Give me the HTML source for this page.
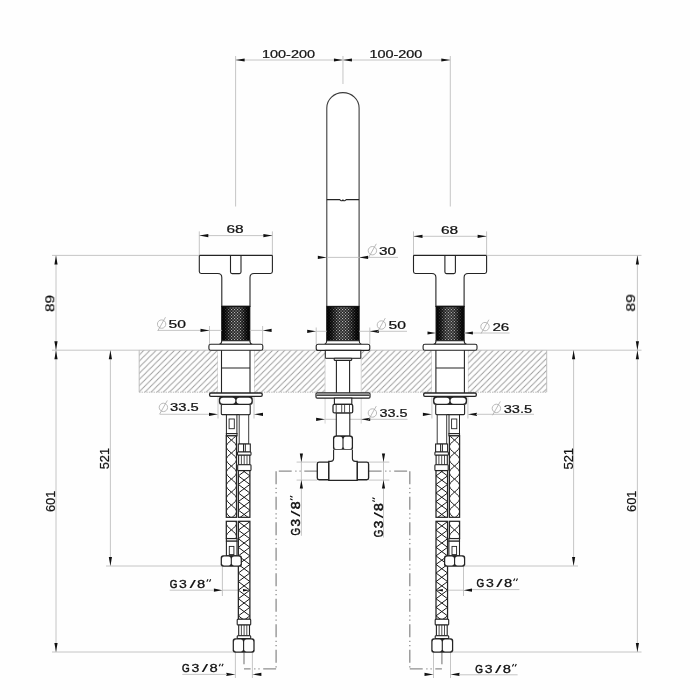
<!DOCTYPE html>
<html><head><meta charset="utf-8"><title>drawing</title>
<style>html,body{margin:0;padding:0;background:#fefefe}svg{display:block}text{font-family:"Liberation Sans",sans-serif;fill:#111;stroke:#111;stroke-width:0.24px;stroke-linejoin:round}</style>
</head><body>
<svg width="700" height="700" viewBox="0 0 700 700">
<defs>
<pattern id="hatch" width="6.13" height="6.13" patternUnits="userSpaceOnUse" x="144" y="350.2"><path d="M-1,7.13 L7.13,-1 M-1,1 L1,-1 M5.13,7.13 L7.13,5.13" stroke="#9a9a9a" stroke-width="0.9" fill="none"/></pattern>
<linearGradient id="kn" x1="0" x2="1" y1="0" y2="0"><stop offset="0" stop-color="#050505"/><stop offset="0.18" stop-color="#1a1a1a"/><stop offset="0.5" stop-color="#2c2c2c"/><stop offset="0.82" stop-color="#1a1a1a"/><stop offset="1" stop-color="#050505"/></linearGradient>
<pattern id="kd" width="3" height="3" patternUnits="userSpaceOnUse"><rect x="0" y="0" width="1.1" height="1.1" fill="#b4b4b4"/><rect x="1.5" y="1.5" width="1.1" height="1.1" fill="#b4b4b4"/></pattern>
<linearGradient id="ks" x1="0" x2="1" y1="0" y2="0"><stop offset="0" stop-color="#000" stop-opacity="0.95"/><stop offset="0.12" stop-color="#000" stop-opacity="0.7"/><stop offset="0.35" stop-color="#000" stop-opacity="0"/><stop offset="0.65" stop-color="#000" stop-opacity="0"/><stop offset="0.88" stop-color="#000" stop-opacity="0.7"/><stop offset="1" stop-color="#000" stop-opacity="0.95"/></linearGradient>
<g id="half"><line x1="235.6" y1="56" x2="235.6" y2="206.5" stroke="#c0c0c0" stroke-width="0.9" />
<line x1="235.6" y1="60" x2="342.95" y2="60" stroke="#c0c0c0" stroke-width="0.9" />
<polygon points="235.6,60 244.6,58.4 244.6,61.6" fill="#111"/>
<polygon points="342.95,60 333.95,58.4 333.95,61.6" fill="#111"/>
<line x1="199.3" y1="231.4" x2="199.3" y2="255.4" stroke="#c0c0c0" stroke-width="0.9" />
<line x1="272.4" y1="231.4" x2="272.4" y2="255.4" stroke="#c0c0c0" stroke-width="0.9" />
<line x1="218" y1="350.2" x2="218" y2="418.5" stroke="#c0c0c0" stroke-width="0.9" />
<line x1="254" y1="350.2" x2="254" y2="418.5" stroke="#c0c0c0" stroke-width="0.9" />
<polygon points="218,414.3 209.0,412.7 209.0,415.9" fill="#111"/>
<polygon points="254,414.3 263.0,412.7 263.0,415.9" fill="#111"/>
<line x1="222.4" y1="566" x2="222.4" y2="596" stroke="#c0c0c0" stroke-width="0.9" />
<line x1="222.4" y1="590.2" x2="238" y2="590.2" stroke="#c0c0c0" stroke-width="0.9" />
<polygon points="222.4,590.2 213.9,588.6 213.9,591.8" fill="#111"/>
<line x1="235.4" y1="652" x2="235.4" y2="678" stroke="#c0c0c0" stroke-width="0.9" />
<line x1="252.4" y1="652" x2="252.4" y2="678" stroke="#c0c0c0" stroke-width="0.9" />
<polygon points="235.4,674.4 226.4,672.8 226.4,676.0" fill="#111"/>
<polygon points="252.4,674.4 261.4,672.8 261.4,676.0" fill="#111"/>
<path d="M317.2,471.2 H276" stroke="#8e8e8e" stroke-width="1.3" fill="none" stroke-dasharray="12.9 3.6 1.2 3 1.2 3.6"/>
<path d="M276.1,471.3 V668.9" stroke="#8e8e8e" stroke-width="1.3" fill="none" stroke-dasharray="12.9 3.6 1.2 3 1.2 3.6"/>
<path d="M276.1,668.9 H244" stroke="#8e8e8e" stroke-width="1.3" fill="none" stroke-dasharray="12.9 3.6 1.2 3 1.2 3.6"/>
<path d="M244,652.5 V664.2" stroke="#8e8e8e" stroke-width="1.3" fill="none"/>
<line x1="296.6" y1="462.1" x2="317.3" y2="462.1" stroke="#c0c0c0" stroke-width="0.9" />
<line x1="296.6" y1="480.1" x2="317.3" y2="480.1" stroke="#c0c0c0" stroke-width="0.9" />
<rect x="218" y="350.6" width="36" height="42.2" fill="#fff"/>
<path d="M199.3,256.2 Q199.3,255.4 200.1,255.4 H271.6 Q272.4,255.4 272.4,256.2 V271.6 Q272.4,273.5 270.5,273.5 H254 Q250,273.5 250,277.5 V306.4 H221.8 V277.5 Q221.8,273.5 217.8,273.5 H201.2 Q199.3,273.5 199.3,271.6 Z" fill="#fff" stroke="#242424" stroke-width="1.1"/>
<path d="M230.5,255.4 V272 Q230.5,273.6 232.1,273.6 H239.4 Q241,273.6 241,272 V255.4" fill="none" stroke="#242424" stroke-width="1.1"/>
<rect x="221.8" y="306.4" width="28" height="34.3" fill="url(#kn)"/><rect x="221.8" y="306.4" width="28" height="34.3" fill="url(#kd)"/><rect x="221.8" y="306.4" width="28" height="34.3" fill="url(#ks)"/><rect x="221.8" y="306.4" width="28" height="34.3" fill="none" stroke="#111" stroke-width="1.1"/>
<path d="M221.8,340.7 Q221.6,343.6 219.4,344.2 H252.2 Q250,343.6 249.8,340.7 Z" fill="#fff" stroke="#242424" stroke-width="1.1"/>
<rect x="208.9" y="344.2" width="53.9" height="6.1" rx="1.8" fill="#fff" stroke="#242424" stroke-width="1.1"/>
<path d="M221.5,350.3 V393 M250,350.3 V393 M221.5,368 H250" fill="none" stroke="#242424" stroke-width="1.1"/>
<rect x="209.6" y="393" width="52.6" height="3.3" rx="1.2" fill="#fff" stroke="#242424" stroke-width="1.3"/>
<rect x="218.85" y="396.35" width="34.0" height="8.7" rx="3.1999999999999997" fill="#242424"/><rect x="220.15" y="397.65" width="15.17" height="6.1" rx="2.9" fill="#fff"/><rect x="236.49" y="397.65" width="15.06" height="6.1" rx="2.9" fill="#fff"/>
<rect x="221.3" y="404.5" width="28.9" height="10.1" rx="1" fill="#fff" stroke="#242424" stroke-width="1.1"/>
<rect x="226.4" y="414.8" width="10.5" height="18.8" rx="0" fill="#fff" stroke="#242424" stroke-width="1.0"/>
<rect x="229.1" y="419" width="5.2" height="9.7" rx="0" fill="#fff" stroke="#242424" stroke-width="0.9"/>
<rect x="226.4" y="433.6" width="10.6" height="2.2" rx="0" fill="#fff" stroke="#242424" stroke-width="1.1"/>
<rect x="226.3" y="435.8" width="10.2" height="81.5" fill="#fff"/><clipPath id="b1"><rect x="226.3" y="435.8" width="10.2" height="81.5"/></clipPath><g clip-path="url(#b1)"><path d="M231.4,427.1 C238.2,432.56 238.2,434.64 231.4,440.1 C224.6,445.56 224.6,447.64 231.4,453.1 C238.2,458.56 238.2,460.64 231.4,466.1 C224.6,471.56 224.6,473.64 231.4,479.1 C238.2,484.56 238.2,486.64 231.4,492.1 C224.6,497.56 224.6,499.64 231.4,505.1 C238.2,510.56 238.2,512.64 231.4,518.1 C224.6,523.56 224.6,525.64 231.4,531.1 M231.4,427.1 C224.6,432.56 224.6,434.64 231.4,440.1 C238.2,445.56 238.2,447.64 231.4,453.1 C224.6,458.56 224.6,460.64 231.4,466.1 C238.2,471.56 238.2,473.64 231.4,479.1 C224.6,484.56 224.6,486.64 231.4,492.1 C238.2,497.56 238.2,499.64 231.4,505.1 C224.6,510.56 224.6,512.64 231.4,518.1 C238.2,523.56 238.2,525.64 231.4,531.1" fill="none" stroke="#1a1a1a" stroke-width="1.0"/></g><rect x="226.3" y="435.8" width="10.2" height="81.5" fill="none" stroke="#242424" stroke-width="1.25"/>
<rect x="226.3" y="521.3" width="10.2" height="17.3" fill="#fff"/><clipPath id="b2"><rect x="226.3" y="521.3" width="10.2" height="17.3"/></clipPath><g clip-path="url(#b2)"><path d="M231.4,490.9 C238.2,496.36 238.2,498.44 231.4,503.9 C224.6,509.36 224.6,511.44 231.4,516.9 C238.2,522.36 238.2,524.44 231.4,529.9 C224.6,535.36 224.6,537.44 231.4,542.9 C238.2,548.36 238.2,550.44 231.4,555.9 M231.4,490.9 C224.6,496.36 224.6,498.44 231.4,503.9 C238.2,509.36 238.2,511.44 231.4,516.9 C224.6,522.36 224.6,524.44 231.4,529.9 C238.2,535.36 238.2,537.44 231.4,542.9 C224.6,548.36 224.6,550.44 231.4,555.9" fill="none" stroke="#1a1a1a" stroke-width="1.0"/></g><rect x="226.3" y="521.3" width="10.2" height="17.3" fill="none" stroke="#242424" stroke-width="1.25"/>
<rect x="226.4" y="538.6" width="10.6" height="2.6" rx="0" fill="#fff" stroke="#242424" stroke-width="1.1"/>
<rect x="226.4" y="541.2" width="10.6" height="14.6" rx="0" fill="#fff" stroke="#242424" stroke-width="1.1"/>
<rect x="229.3" y="546.4" width="4.6" height="8.2" rx="0" fill="#fff" stroke="#242424" stroke-width="0.9"/>
<rect x="239.2" y="414.8" width="9.5" height="29.2" rx="0" fill="#fff" stroke="#333" stroke-width="0.95"/>
<rect x="238.3" y="444" width="12.0" height="8" rx="0" fill="#fff" stroke="#242424" stroke-width="1.1"/><line x1="243.5" y1="444" x2="243.5" y2="452" stroke="#242424" stroke-width="1.0" /><line x1="245.3" y1="444" x2="245.3" y2="452" stroke="#242424" stroke-width="1.0" />
<rect x="237.5" y="452" width="13.5" height="3.2" rx="0.8" fill="#fff" stroke="#242424" stroke-width="1.1"/>
<rect x="238.6" y="455.2" width="11.2" height="9.6" rx="0" fill="#fff" stroke="#242424" stroke-width="1.1"/><line x1="241.4" y1="455.2" x2="241.4" y2="464.8" stroke="#242424" stroke-width="0.8" /><line x1="244.2" y1="455.2" x2="244.2" y2="464.8" stroke="#242424" stroke-width="0.8" /><line x1="247.0" y1="455.2" x2="247.0" y2="464.8" stroke="#242424" stroke-width="0.8" />
<rect x="237.7" y="464.8" width="13.3" height="5.8" rx="0.8" fill="#fff" stroke="#242424" stroke-width="1.1"/>
<rect x="238.35" y="470.6" width="11.55" height="46.7" fill="#fff"/><clipPath id="b3"><rect x="238.35" y="470.6" width="11.55" height="46.7"/></clipPath><g clip-path="url(#b3)"><path d="M238.35,467.3 L249.9,475.87 L238.35,484.44 L249.9,493.01 L238.35,501.58 L249.9,510.15 L238.35,518.72 M249.9,467.3 L238.35,475.87 L249.9,484.44 L238.35,493.01 L249.9,501.58 L238.35,510.15 L249.9,518.72" fill="none" stroke="#1a1a1a" stroke-width="1.0"/></g><rect x="238.35" y="470.6" width="11.55" height="46.7" fill="none" stroke="#242424" stroke-width="1.25"/>
<rect x="238.35" y="521.3" width="11.55" height="98.0" fill="#fff"/><clipPath id="b4"><rect x="238.35" y="521.3" width="11.55" height="98.0"/></clipPath><g clip-path="url(#b4)"><path d="M238.35,504.46 L249.9,513.03 L238.35,521.6 L249.9,530.17 L238.35,538.74 L249.9,547.31 L238.35,555.88 L249.9,564.45 L238.35,573.02 L249.9,581.59 L238.35,590.16 L249.9,598.73 L238.35,607.3 L249.9,615.87 L238.35,624.44 M249.9,504.46 L238.35,513.03 L249.9,521.6 L238.35,530.17 L249.9,538.74 L238.35,547.31 L249.9,555.88 L238.35,564.45 L249.9,573.02 L238.35,581.59 L249.9,590.16 L238.35,598.73 L249.9,607.3 L238.35,615.87 L249.9,624.44" fill="none" stroke="#1a1a1a" stroke-width="1.0"/></g><rect x="238.35" y="521.3" width="11.55" height="98.0" fill="none" stroke="#242424" stroke-width="1.25"/>
<polygon points="249.5,590.2 243,589 243,591.4" fill="#111"/>
<rect x="220.68" y="555.27" width="21.25" height="11.55" rx="2.5" fill="#242424"/><rect x="221.93" y="556.52" width="8.81" height="9.05" rx="2.2" fill="#fff"/><rect x="231.86" y="556.52" width="8.81" height="9.05" rx="2.2" fill="#fff"/>
<rect x="237.2" y="619.3" width="13.5" height="5.7" rx="0.8" fill="#fff" stroke="#242424" stroke-width="1.1"/>
<rect x="238.7" y="625" width="10.8" height="10.7" rx="0" fill="#fff" stroke="#242424" stroke-width="1.1"/><line x1="241.4" y1="625" x2="241.4" y2="635.7" stroke="#242424" stroke-width="0.8" /><line x1="244.1" y1="625" x2="244.1" y2="635.7" stroke="#242424" stroke-width="0.8" /><line x1="246.8" y1="625" x2="246.8" y2="635.7" stroke="#242424" stroke-width="0.8" />
<rect x="237.2" y="635.7" width="13.5" height="2.9" rx="0.8" fill="#fff" stroke="#242424" stroke-width="1.1"/>
<rect x="232.68" y="638.27" width="21.95" height="14.45" rx="2.5" fill="#242424"/><rect x="233.93" y="639.52" width="9.11" height="11.95" rx="2.2" fill="#fff"/><rect x="244.16" y="639.52" width="9.21" height="11.95" rx="2.2" fill="#fff"/></g>
</defs>
<rect width="700" height="700" fill="#fefefe"/>
<rect x="139.2" y="350.2" width="407.5" height="42" fill="url(#hatch)"/>
<path d="M139.2,350.2 V392.2 M546.7,350.2 V392.2" fill="none" stroke="#b8b8b8" stroke-width="0.9"/>
<path d="M139.2,392.2 H546.7" fill="none" stroke="#b0b0b0" stroke-width="0.9" stroke-dasharray="1.3 1.1"/>
<path d="M139.2,350.2 H546.7" fill="none" stroke="#b8b8b8" stroke-width="0.9"/>
<rect x="325" y="350.6" width="36.4" height="42.2" fill="#fff"/>
<use href="#half"/>
<use href="#half" transform="translate(685.9 0) scale(-1 1)"/>
<line x1="342.95" y1="56" x2="342.95" y2="84" stroke="#c0c0c0" stroke-width="0.9" />
<path d="M326.8,306.4 V107.9 A16.15,15.3 0 0 1 359.1,107.9 V306.4" fill="#fff" stroke="#3c3c3c" stroke-width="1.1"/>
<path d="M326.8,199.6 H339.5 l1.6,1.2 h1.2 l0.65,-0.9 l0.65,0.9 h1.2 l1.6,-1.2 H359.1" fill="none" stroke="#242424" stroke-width="1.1"/>
<line x1="326.8" y1="257.4" x2="359.1" y2="257.4" stroke="#c0c0c0" stroke-width="0.9" />
<line x1="359.1" y1="257.4" x2="398" y2="257.4" stroke="#c0c0c0" stroke-width="0.9" />
<polygon points="326.8,257.4 317.8,255.8 317.8,259.0" fill="#111"/>
<polygon points="359.1,257.4 368.1,255.8 368.1,259.0" fill="#111"/>
<rect x="326.8" y="306.4" width="32.3" height="34.3" fill="url(#kn)"/><rect x="326.8" y="306.4" width="32.3" height="34.3" fill="url(#kd)"/><rect x="326.8" y="306.4" width="32.3" height="34.3" fill="url(#ks)"/><rect x="326.8" y="306.4" width="32.3" height="34.3" fill="none" stroke="#111" stroke-width="1.1"/>
<path d="M326.8,340.7 Q326.6,343.6 324.6,344.2 H361.3 Q359.3,343.6 359.1,340.7 Z" fill="#fff" stroke="#242424" stroke-width="1.1"/>
<line x1="316.2" y1="327.5" x2="316.2" y2="344.2" stroke="#c0c0c0" stroke-width="0.9" />
<line x1="369.8" y1="327.5" x2="369.8" y2="344.2" stroke="#c0c0c0" stroke-width="0.9" />
<line x1="316.2" y1="331.3" x2="326.8" y2="331.3" stroke="#c0c0c0" stroke-width="0.9" />
<line x1="359.1" y1="331.3" x2="407" y2="331.3" stroke="#c0c0c0" stroke-width="0.9" />
<polygon points="316.2,331.3 307.2,329.7 307.2,332.9" fill="#111"/>
<polygon points="369.8,331.3 378.8,329.7 378.8,332.9" fill="#111"/>
<rect x="316.2" y="344.2" width="53.6" height="6.2" rx="2" fill="#fff" stroke="#242424" stroke-width="1.1"/>
<rect x="325.3" y="350.4" width="35.5" height="7.9" rx="0" fill="#fff" stroke="#242424" stroke-width="1.1"/>
<rect x="334.2" y="358.3" width="17.5" height="2.1" rx="0.6" fill="#fff" stroke="#242424" stroke-width="1.1"/>
<path d="M336.4,360.4 V393 M349.6,360.4 V393" stroke="#242424" stroke-width="1.1" fill="none"/>
<line x1="325.1" y1="358.4" x2="325.1" y2="423.6" stroke="#cfcfcf" stroke-width="0.9" />
<line x1="361.2" y1="358.4" x2="361.2" y2="423.6" stroke="#cfcfcf" stroke-width="0.9" />
<rect x="316" y="392.8" width="54" height="5.3" rx="1.2" fill="#fff" stroke="#242424" stroke-width="1.2"/>
<rect x="316.8" y="393.4" width="52.4" height="1.9" fill="#8a8a8a"/>
<line x1="316.6" y1="395.5" x2="369.4" y2="395.5" stroke="#242424" stroke-width="0.8" />
<line x1="325.1" y1="419.3" x2="361.2" y2="419.3" stroke="#c0c0c0" stroke-width="0.9" />
<line x1="361.2" y1="419.3" x2="407.5" y2="419.3" stroke="#c0c0c0" stroke-width="0.9" />
<polygon points="325.1,419.3 316.1,417.7 316.1,420.9" fill="#111"/>
<polygon points="361.2,419.3 370.2,417.7 370.2,420.9" fill="#111"/>
<rect x="334.4" y="398.1" width="17.4" height="6.2" rx="0" fill="#fff" stroke="#242424" stroke-width="1.1"/>
<rect x="336.3" y="412.9" width="13.5" height="23.2" rx="0" fill="#fff" stroke="#242424" stroke-width="1.1"/>
<rect x="333" y="404.3" width="19.7" height="8.6" rx="1.5" fill="#fff" stroke="#242424" stroke-width="1.25"/>
<line x1="336.2" y1="404.6" x2="336.2" y2="412.6" stroke="#242424" stroke-width="0.8" />
<line x1="341.7" y1="404.6" x2="341.7" y2="412.6" stroke="#242424" stroke-width="0.8" />
<line x1="344.6" y1="404.6" x2="344.6" y2="412.6" stroke="#242424" stroke-width="0.8" />
<line x1="349.5" y1="404.6" x2="349.5" y2="412.6" stroke="#242424" stroke-width="0.8" />
<rect x="332.98" y="435.48" width="20.05" height="14.85" rx="2.5" fill="#242424"/><rect x="334.23" y="436.73" width="8.21" height="12.35" rx="2.2" fill="#fff"/><rect x="343.56" y="436.73" width="8.21" height="12.35" rx="2.2" fill="#fff"/>
<path d="M333.6,449.7 V458.5 Q333.6,461.4 330.7,461.4 H328.7 V480.4 H357.3 V461.4 H355.3 Q352.4,461.4 352.4,458.5 V449.7" fill="#fff" stroke="#242424" stroke-width="1.1"/>
<path d="M328.7,462.1 H319.1 Q317.3,462.1 317.3,463.9 V477.9 Q317.3,479.7 319.1,479.7 H328.7 Z" fill="#fff" stroke="#242424" stroke-width="1.35"/>
<path d="M357.3,462.1 H366.8 Q368.6,462.1 368.6,463.9 V477.9 Q368.6,479.7 366.8,479.7 H357.3 Z" fill="#fff" stroke="#242424" stroke-width="1.35"/>
<line x1="209.5" y1="326" x2="209.5" y2="344.2" stroke="#c0c0c0" stroke-width="0.9" />
<line x1="262.6" y1="326" x2="262.6" y2="344.2" stroke="#c0c0c0" stroke-width="0.9" />
<line x1="158" y1="330.4" x2="221.8" y2="330.4" stroke="#c0c0c0" stroke-width="0.9" />
<line x1="249.8" y1="330.4" x2="262.6" y2="330.4" stroke="#c0c0c0" stroke-width="0.9" />
<polygon points="209.5,330.4 200.5,328.8 200.5,332.0" fill="#111"/>
<polygon points="262.6,330.4 271.6,328.8 271.6,332.0" fill="#111"/>
<line x1="301.4" y1="453.7" x2="301.4" y2="535.8" stroke="#c0c0c0" stroke-width="0.9" />
<polygon points="301.4,462.1 299.8,453.6 303.0,453.6" fill="#111"/>
<polygon points="301.4,480.1 299.8,488.6 303.0,488.6" fill="#111"/>
<line x1="383.5" y1="453.7" x2="383.5" y2="537.5" stroke="#c0c0c0" stroke-width="0.9" />
<polygon points="383.5,462.1 381.9,453.6 385.1,453.6" fill="#111"/>
<polygon points="383.5,480.1 381.9,488.6 385.1,488.6" fill="#111"/>
<line x1="199.3" y1="235.6" x2="272.4" y2="235.6" stroke="#c0c0c0" stroke-width="0.9" />
<polygon points="199.3,235.6 208.3,234.0 208.3,237.2" fill="#111"/>
<polygon points="272.4,235.6 263.4,234.0 263.4,237.2" fill="#111"/>
<line x1="413.5" y1="236.3" x2="486.6" y2="236.3" stroke="#c0c0c0" stroke-width="0.9" />
<polygon points="413.5,236.3 422.5,234.7 422.5,237.9" fill="#111"/>
<polygon points="486.6,236.3 477.6,234.7 477.6,237.9" fill="#111"/>
<line x1="52" y1="255.4" x2="199.3" y2="255.4" stroke="#c0c0c0" stroke-width="0.9" />
<line x1="52" y1="350.2" x2="139.2" y2="350.2" stroke="#c0c0c0" stroke-width="0.9" />
<line x1="52" y1="652" x2="233.3" y2="652" stroke="#c0c0c0" stroke-width="0.9" />
<line x1="56" y1="255.4" x2="56" y2="652" stroke="#c0c0c0" stroke-width="0.9" />
<polygon points="56,255.4 54.4,264.4 57.6,264.4" fill="#111"/>
<polygon points="56,350.2 54.4,341.2 57.6,341.2" fill="#111"/>
<polygon points="56,350.2 54.4,359.2 57.6,359.2" fill="#111"/>
<polygon points="56,652 54.4,643.0 57.6,643.0" fill="#111"/>
<line x1="110.4" y1="350.2" x2="110.4" y2="566" stroke="#c0c0c0" stroke-width="0.9" />
<polygon points="110.4,350.2 108.8,359.2 112.0,359.2" fill="#111"/>
<polygon points="110.4,566 108.8,557.0 112.0,557.0" fill="#111"/>
<line x1="106" y1="566" x2="221.3" y2="566" stroke="#c0c0c0" stroke-width="0.9" />
<line x1="486.6" y1="255.4" x2="641.5" y2="255.4" stroke="#c0c0c0" stroke-width="0.9" />
<line x1="546.7" y1="350.2" x2="641.5" y2="350.2" stroke="#c0c0c0" stroke-width="0.9" />
<line x1="452.6" y1="652" x2="641.5" y2="652" stroke="#c0c0c0" stroke-width="0.9" />
<line x1="637.4" y1="255.4" x2="637.4" y2="652" stroke="#c0c0c0" stroke-width="0.9" />
<polygon points="637.4,255.4 635.8,264.4 639.0,264.4" fill="#111"/>
<polygon points="637.4,350.2 635.8,341.2 639.0,341.2" fill="#111"/>
<polygon points="637.4,350.2 635.8,359.2 639.0,359.2" fill="#111"/>
<polygon points="637.4,652 635.8,643.0 639.0,643.0" fill="#111"/>
<line x1="573.6" y1="350.2" x2="573.6" y2="566" stroke="#c0c0c0" stroke-width="0.9" />
<polygon points="573.6,350.2 572.0,359.2 575.2,359.2" fill="#111"/>
<polygon points="573.6,566 572.0,557.0 575.2,557.0" fill="#111"/>
<line x1="464.6" y1="566" x2="578" y2="566" stroke="#c0c0c0" stroke-width="0.9" />
<line x1="464.4" y1="333" x2="509.6" y2="333" stroke="#c0c0c0" stroke-width="0.9" />
<polygon points="436,333 427.5,331.4 427.5,334.6" fill="#111"/>
<polygon points="464.4,333 472.9,331.4 472.9,334.6" fill="#111"/>
<line x1="160" y1="414.3" x2="209" y2="414.3" stroke="#c0c0c0" stroke-width="0.9" />
<line x1="476" y1="414.3" x2="534" y2="414.3" stroke="#c0c0c0" stroke-width="0.9" />
<line x1="169.7" y1="590.2" x2="214" y2="590.2" stroke="#c0c0c0" stroke-width="0.9" />
<line x1="472" y1="589.6" x2="519.4" y2="589.6" stroke="#c0c0c0" stroke-width="0.9" />
<line x1="182.3" y1="674.4" x2="227" y2="674.4" stroke="#c0c0c0" stroke-width="0.9" />
<line x1="459" y1="674.8" x2="517.6" y2="674.8" stroke="#c0c0c0" stroke-width="0.9" />
<g opacity="0.995"><text x="262" y="57.6" textLength="53" lengthAdjust="spacingAndGlyphs" font-size="11.4" >100-200</text>
<text x="369.4" y="57.6" textLength="53.0" lengthAdjust="spacingAndGlyphs" font-size="11.4" >100-200</text>
<text x="226.4" y="233.3" textLength="17.2" lengthAdjust="spacingAndGlyphs" font-size="11.4" >68</text>
<text x="441" y="234.2" textLength="17.2" lengthAdjust="spacingAndGlyphs" font-size="11.4" >68</text>
<circle cx="372.4" cy="250.7" r="4.2" fill="none" stroke="#a8a8a8" stroke-width="0.8"/><line x1="368.5" y1="257.6" x2="376.3" y2="243.8" stroke="#a8a8a8" stroke-width="0.8"/>
<text x="379" y="254.9" textLength="17" lengthAdjust="spacingAndGlyphs" font-size="11.4" >30</text>
<circle cx="161.6" cy="324.1" r="4.2" fill="none" stroke="#a8a8a8" stroke-width="0.8"/><line x1="157.7" y1="331.0" x2="165.5" y2="317.2" stroke="#a8a8a8" stroke-width="0.8"/>
<text x="168.6" y="328.1" textLength="17.4" lengthAdjust="spacingAndGlyphs" font-size="11.4" >50</text>
<circle cx="381.4" cy="325" r="4.2" fill="none" stroke="#a8a8a8" stroke-width="0.8"/><line x1="377.5" y1="331.9" x2="385.3" y2="318.1" stroke="#a8a8a8" stroke-width="0.8"/>
<text x="388.6" y="329" textLength="17.4" lengthAdjust="spacingAndGlyphs" font-size="11.4" >50</text>
<circle cx="485" cy="326.6" r="4.2" fill="none" stroke="#a8a8a8" stroke-width="0.8"/><line x1="481.1" y1="333.5" x2="488.9" y2="319.7" stroke="#a8a8a8" stroke-width="0.8"/>
<text x="492.4" y="330.7" textLength="16.9" lengthAdjust="spacingAndGlyphs" font-size="11.4" >26</text>
<circle cx="163.4" cy="407.4" r="4.2" fill="none" stroke="#a8a8a8" stroke-width="0.8"/><line x1="159.5" y1="414.3" x2="167.3" y2="400.5" stroke="#a8a8a8" stroke-width="0.8"/>
<text x="170.1" y="411.4" textLength="28.7" lengthAdjust="spacingAndGlyphs" font-size="11.4" >33.5</text>
<circle cx="372.4" cy="413" r="4.2" fill="none" stroke="#a8a8a8" stroke-width="0.8"/><line x1="368.5" y1="419.9" x2="376.3" y2="406.1" stroke="#a8a8a8" stroke-width="0.8"/>
<text x="379.4" y="417" textLength="28.0" lengthAdjust="spacingAndGlyphs" font-size="11.4" >33.5</text>
<circle cx="496.4" cy="408.4" r="4.2" fill="none" stroke="#a8a8a8" stroke-width="0.8"/><line x1="492.5" y1="415.3" x2="500.3" y2="401.5" stroke="#a8a8a8" stroke-width="0.8"/>
<text x="503.7" y="412.5" textLength="28.4" lengthAdjust="spacingAndGlyphs" font-size="11.4" >33.5</text>
<text transform="translate(169.7 587.9) scale(0.868 1)" font-size="11.4"><tspan stroke-width="0.5">G</tspan></text><text transform="translate(179.1 587.9) scale(1.231 1)" font-size="11.4"><tspan stroke-width="0.28">3</tspan></text><text transform="translate(189.4 587.9) scale(2.019 1)" font-size="11.4"><tspan stroke-width="0.05">/</tspan></text><text transform="translate(197.1 587.9) scale(1.294 1)" font-size="11.4"><tspan stroke-width="0.28">8</tspan></text><line x1="208.0" y1="579.34" x2="206.8" y2="581.84" stroke="#111" stroke-width="1.1"/><line x1="210.7" y1="579.34" x2="209.5" y2="581.84" stroke="#111" stroke-width="1.1"/>
<text transform="translate(182.1 672.4) scale(0.868 1)" font-size="11.4"><tspan stroke-width="0.5">G</tspan></text><text transform="translate(191.5 672.4) scale(1.231 1)" font-size="11.4"><tspan stroke-width="0.28">3</tspan></text><text transform="translate(201.8 672.4) scale(2.019 1)" font-size="11.4"><tspan stroke-width="0.05">/</tspan></text><text transform="translate(209.5 672.4) scale(1.294 1)" font-size="11.4"><tspan stroke-width="0.28">8</tspan></text><line x1="220.4" y1="663.84" x2="219.2" y2="666.34" stroke="#111" stroke-width="1.1"/><line x1="223.1" y1="663.84" x2="221.9" y2="666.34" stroke="#111" stroke-width="1.1"/>
<text transform="translate(476.5 587.1) scale(0.868 1)" font-size="11.4"><tspan stroke-width="0.5">G</tspan></text><text transform="translate(485.9 587.1) scale(1.231 1)" font-size="11.4"><tspan stroke-width="0.28">3</tspan></text><text transform="translate(496.2 587.1) scale(2.019 1)" font-size="11.4"><tspan stroke-width="0.05">/</tspan></text><text transform="translate(503.9 587.1) scale(1.294 1)" font-size="11.4"><tspan stroke-width="0.28">8</tspan></text><line x1="514.8" y1="578.54" x2="513.6" y2="581.04" stroke="#111" stroke-width="1.1"/><line x1="517.5" y1="578.54" x2="516.3" y2="581.04" stroke="#111" stroke-width="1.1"/>
<text transform="translate(475.3 672.5) scale(0.868 1)" font-size="11.4"><tspan stroke-width="0.5">G</tspan></text><text transform="translate(484.7 672.5) scale(1.231 1)" font-size="11.4"><tspan stroke-width="0.28">3</tspan></text><text transform="translate(495.0 672.5) scale(2.019 1)" font-size="11.4"><tspan stroke-width="0.05">/</tspan></text><text transform="translate(502.7 672.5) scale(1.294 1)" font-size="11.4"><tspan stroke-width="0.28">8</tspan></text><line x1="513.6" y1="663.94" x2="512.4" y2="666.44" stroke="#111" stroke-width="1.1"/><line x1="516.3" y1="663.94" x2="515.1" y2="666.44" stroke="#111" stroke-width="1.1"/>
<text transform="translate(54.3 312) rotate(-90)" x="0" y="0" textLength="17.1" lengthAdjust="spacingAndGlyphs" font-size="13.6">89</text>
<text transform="translate(635.1 311.6) rotate(-90)" x="0" y="0" textLength="17.4" lengthAdjust="spacingAndGlyphs" font-size="13.6">89</text>
<text transform="translate(109.4 469.3) rotate(-90)" x="0" y="0" textLength="21.4" lengthAdjust="spacingAndGlyphs" font-size="13.6">521</text>
<text transform="translate(572.7 469.6) rotate(-90)" x="0" y="0" textLength="21.7" lengthAdjust="spacingAndGlyphs" font-size="13.6">521</text>
<text transform="translate(54.7 512.1) rotate(-90)" x="0" y="0" textLength="21.4" lengthAdjust="spacingAndGlyphs" font-size="13.6">601</text>
<text transform="translate(635.5 512) rotate(-90)" x="0" y="0" textLength="21.4" lengthAdjust="spacingAndGlyphs" font-size="13.6">601</text>
<text transform="translate(300.2 535.6) rotate(-90) scale(0.701 1)" font-size="13.6"><tspan stroke-width="0.5">G</tspan></text><text transform="translate(300.2 526.55) rotate(-90) scale(0.993 1)" font-size="13.6"><tspan stroke-width="0.5">3</tspan></text><text transform="translate(300.2 516.63) rotate(-90) scale(1.63 1)" font-size="13.6"><tspan stroke-width="0.05">/</tspan></text><text transform="translate(300.2 509.21) rotate(-90) scale(1.044 1)" font-size="13.6"><tspan stroke-width="0.5">8</tspan></text><line x1="290.06" y1="498.69" x2="292.56" y2="499.89" stroke="#111" stroke-width="1.1"/><line x1="290.06" y1="496.09" x2="292.56" y2="497.29" stroke="#111" stroke-width="1.1"/>
<text transform="translate(382.5 537.3) rotate(-90) scale(0.701 1)" font-size="13.6"><tspan stroke-width="0.5">G</tspan></text><text transform="translate(382.5 528.25) rotate(-90) scale(0.993 1)" font-size="13.6"><tspan stroke-width="0.5">3</tspan></text><text transform="translate(382.5 518.33) rotate(-90) scale(1.63 1)" font-size="13.6"><tspan stroke-width="0.05">/</tspan></text><text transform="translate(382.5 510.91) rotate(-90) scale(1.044 1)" font-size="13.6"><tspan stroke-width="0.5">8</tspan></text><line x1="372.36" y1="500.39" x2="374.86" y2="501.59" stroke="#111" stroke-width="1.1"/><line x1="372.36" y1="497.79" x2="374.86" y2="498.99" stroke="#111" stroke-width="1.1"/></g>
</svg></body></html>
